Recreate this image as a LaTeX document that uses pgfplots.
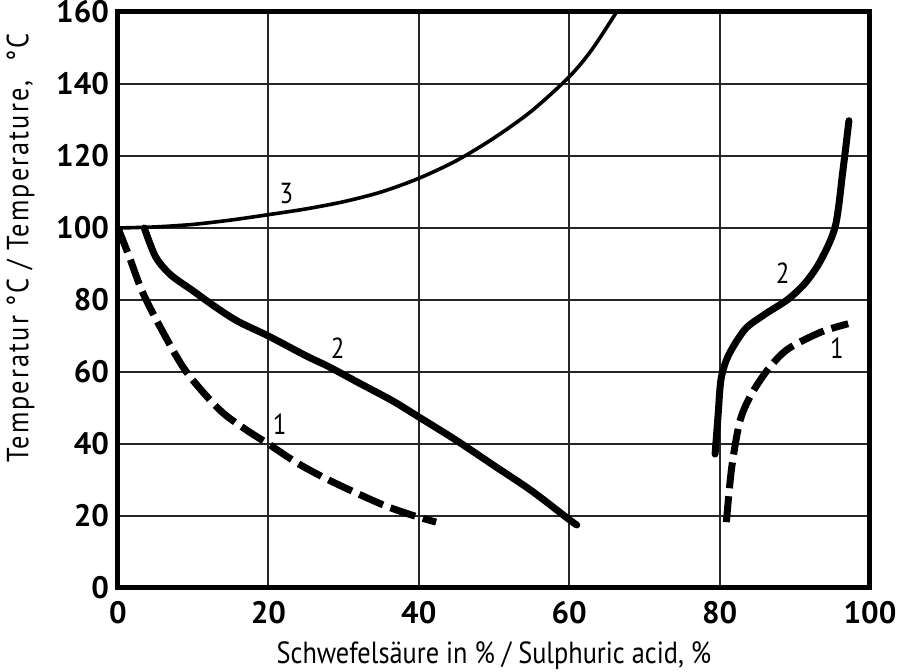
\documentclass[border=0pt]{standalone}
\usepackage{fontspec}
\setmainfont{PT Sans}
\newfontfamily\labelfont{PT Sans}[FakeStretch=0.86]
\newfontfamily\ylabelfont{PT Sans}[FakeStretch=0.86, LetterSpace=7]
\usepackage{pgfplots}
\pgfplotsset{compat=1.18}

% curve data (x = acid %, y = temperature degC)
\pgfplotstableread{
x y
0 100
5 100.3
10 101
15 102.2
20 103.7
25 105.3
30 107.3
35 110
40 113.8
45 118.7
50 125
55 132.5
60 142
63 149.5
66.3 160
}\curvethree
\pgfplotstableread{
x y
3.5 100
5 92
7 87
10 82.5
13 78
16 74
20 70
25 64.5
28 61.5
32 57
36.5 52
40 47.5
45 41
50 34
55 27
60 19
61 17.5
}\curvetwoleft
\pgfplotstableread{
x y
79.4 37.2
79.8 48
80.2 58.1
81.2 64.7
83.4 71.9
86 76
89.1 80.2
91.5 85
93.5 91.2
95.4 100.6
96.4 116
97.2 129.8
}\curvetworight
\pgfplotstableread{
x y
0 100
1.5 92
3.3 82
6 71
9.1 60
13.5 49.5
17 44
20 40
24 34.5
28.5 29.5
35 23.3
39 20.3
42.3 18.3
}\curveoneleft
\pgfplotstableread{
x y
80.9 18.3
81.6 33.3
82.7 46.3
84.2 53.7
86.5 60.9
89.1 66.4
93.5 71.1
97.1 73.4
}\curveoneright

\begin{document}
\begin{tikzpicture}
\begin{axis}[
	name=ax,
	scale only axis,
	width=376pt, height=288pt,
	xmin=0, xmax=100, ymin=0, ymax=160,
	xtick={0,20,...,100}, ytick={0,20,...,160},
	grid=major,
	major grid style={line width=1pt, black!85},
	axis line style={line width=2.5pt},
	major tick length=0pt,
	/pgf/number format/assume math mode=true,
	ticklabel style={font=\bfseries\fontsize{15.5}{15.5}\selectfont},
	xticklabel style={yshift=-3pt},
	yticklabel style={xshift=-1pt},
	xlabel={Schwefelsäure in \% / Sulphuric acid, \%},
	ylabel={Temperatur °C / Temperature, \ °C},
	xlabel style={font=\labelfont\fontsize{15.3}{16}\selectfont, yshift=-2pt},
	ylabel style={font=\ylabelfont\fontsize{15.3}{16}\selectfont,
		at={(ticklabel cs:0.59)}, yshift=4pt},
	clip=false,
]
\addplot[line width=1.8pt, smooth] table {\curvethree};
\addplot[line width=3.5pt, line cap=round, smooth] table {\curvetwoleft};
\addplot[line width=3.5pt, line cap=round, smooth] table {\curvetworight};
\addplot[line width=3.5pt, smooth, dash pattern=on 13pt off 4pt] table {\curveoneleft};
\addplot[line width=3.5pt, smooth, dash pattern=on 13pt off 4pt] table {\curveoneright};
\node[font=\labelfont\fontsize{14.5}{14}\selectfont] at (axis cs:22.4,109.5) {3};
\node[font=\labelfont\fontsize{14.5}{14}\selectfont] at (axis cs:29.2,66.5) {2};
\node[font=\labelfont\fontsize{14.5}{14}\selectfont] at (axis cs:21.5,45.5) {1};
\node[font=\labelfont\fontsize{14.5}{14}\selectfont] at (axis cs:88.4,87.5) {2};
\node[font=\labelfont\fontsize{14.5}{14}\selectfont] at (axis cs:95.6,66.5) {1};
\end{axis}
\pgfresetboundingbox
\path ([shift={(-59pt,-42pt)}]ax.south west) rectangle ([shift={(392pt,294pt)}]ax.south west);
\end{tikzpicture}
\end{document}
